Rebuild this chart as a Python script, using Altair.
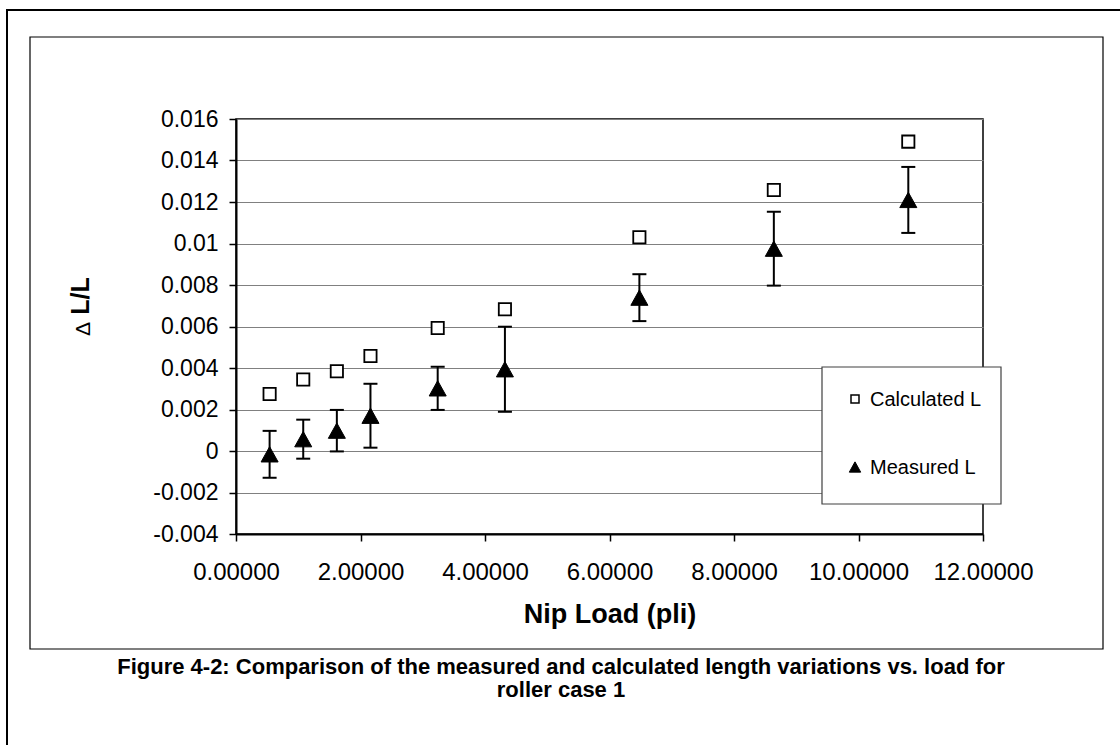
import altair as alt
import pandas as pd

# ---------------- data ----------------
load = [0.54, 1.08, 1.62, 2.16, 3.24, 4.32, 6.48, 8.64, 10.8]
calculated = [0.00275, 0.00345, 0.00384, 0.00458, 0.00593, 0.00683, 0.0103, 0.01258, 0.01491]
measured = [-0.00016, 0.00057, 0.00098, 0.0017, 0.00302, 0.00394, 0.00739, 0.00975, 0.0121]
measured_err = [0.00113, 0.00094, 0.001, 0.00154, 0.00104, 0.00205, 0.00113, 0.00178, 0.00159]

series_names = ["Calculated L", "Measured L"]
x_ticks = [0, 2, 4, 6, 8, 10, 12]
y_ticks = [-0.004, -0.002, 0, 0.002, 0.004, 0.006, 0.008, 0.01, 0.012, 0.014, 0.016]

x_title = "Nip Load (pli)"
y_title_main = "L/L"
y_title_delta = "\u0394"
caption_1 = "Figure 4-2: Comparison of the measured and calculated length variations vs. load for"
caption_2 = "roller case 1"

FONT = "Liberation Sans"
TRI = "M0,-0.9L1,0.9L-1,0.9Z"
CAP = "M-1,0L1,0"

calc_df = pd.DataFrame({"load": load, "value": calculated})
meas_df = pd.DataFrame({"load": load, "value": measured})
meas_df["low"] = [m - e for m, e in zip(measured, measured_err)]
meas_df["high"] = [m + e for m, e in zip(measured, measured_err)]
caps_df = pd.concat([
    pd.DataFrame({"load": load, "cap": meas_df["low"]}),
    pd.DataFrame({"load": load, "cap": meas_df["high"]}),
])

x_enc = alt.X("load:Q", scale=alt.Scale(domain=[0, 12], nice=False, zero=False),
              axis=alt.Axis(values=x_ticks, format=".5f", title=x_title, grid=False,
                            labelFontSize=24, titleFontSize=27, titleFontWeight="bold",
                            titlePadding=17, labelPadding=19, tickSize=7,
                            labelOverlap=False, labelFlush=False))
y_scale = alt.Scale(domain=[-0.004, 0.016], nice=False, zero=False)
y_axis = alt.Axis(values=y_ticks, title=None, grid=True,
                  labelExpr="replace(format(datum.value, '.3~f'), '\u2212', '-')",
                  labelFontSize=23, labelPadding=11, tickSize=7,
                  labelOverlap=False, labelFlush=False)

bars = alt.Chart(meas_df).mark_rule(color="black", strokeWidth=2).encode(
    x=x_enc, y=alt.Y("low:Q", scale=y_scale, axis=y_axis), y2="high:Q")

caps = alt.Chart(caps_df).mark_point(shape=CAP, size=196, filled=False, stroke="black",
                                     strokeWidth=2, opacity=1).encode(
    x="load:Q", y=alt.Y("cap:Q", scale=y_scale))

calc_pts = alt.Chart(calc_df).mark_point(shape="square", filled=True, fill="white",
                                         stroke="black", strokeWidth=1.8,
                                         size=150, opacity=1).encode(
    x="load:Q", y=alt.Y("value:Q", scale=y_scale))

meas_pts = alt.Chart(meas_df).mark_point(shape=TRI, filled=True, fill="black",
                                         stroke="black", strokeWidth=1,
                                         size=290, opacity=1).encode(
    x="load:Q", y=alt.Y("value:Q", scale=y_scale))

one = pd.DataFrame({"k": [0]})

outer_frame = alt.Chart(one).mark_rect(fill="transparent", stroke="black", strokeWidth=2).encode(
    x=alt.value(-229), x2=alt.value(900), y=alt.value(-109), y2=alt.value(700))
inner_frame = alt.Chart(one).mark_rect(fill="transparent", stroke="black", strokeWidth=1.2).encode(
    x=alt.value(-206), x2=alt.value(867), y=alt.value(-82), y2=alt.value(530))

# legend box (drawn in pixel space, outside the data)
leg_box = alt.Chart(one).mark_rect(fill="white", stroke="#404040", strokeWidth=1.2).encode(
    x=alt.value(586), x2=alt.value(765), y=alt.value(248), y2=alt.value(385))
leg_sq = alt.Chart(one).mark_point(shape="square", filled=True, fill="white", stroke="black",
                                   strokeWidth=1.5, size=64, opacity=1).encode(
    x=alt.value(619), y=alt.value(280))
leg_tri = alt.Chart(one).mark_point(shape=TRI, filled=True, fill="black", stroke="black",
                                    strokeWidth=1, size=130, opacity=1).encode(
    x=alt.value(619), y=alt.value(348))
leg_t1 = alt.Chart(one).mark_text(text=series_names[0], font=FONT, fontSize=20, align="left",
                                  baseline="middle", color="black").encode(
    x=alt.value(634), y=alt.value(281))
leg_t2 = alt.Chart(one).mark_text(text=series_names[1], font=FONT, fontSize=20, align="left",
                                  baseline="middle", color="black").encode(
    x=alt.value(634), y=alt.value(349))

ytitle_main = alt.Chart(one).mark_text(text=y_title_main, font=FONT, fontSize=25, fontWeight="bold",
                                       angle=270, align="center", baseline="middle").encode(
    x=alt.value(-155), y=alt.value(177))
ytitle_delta = alt.Chart(one).mark_text(text=y_title_delta, font=FONT, fontSize=21,
                                        angle=270, align="center", baseline="middle").encode(
    x=alt.value(-152), y=alt.value(210))

cap1 = alt.Chart(one).mark_text(text=caption_1, font=FONT, fontSize=22, fontWeight="bold",
                                align="center", baseline="alphabetic").encode(
    x=alt.value(325), y=alt.value(555))
cap2 = alt.Chart(one).mark_text(text=caption_2, font=FONT, fontSize=22, fontWeight="bold",
                                align="center", baseline="alphabetic").encode(
    x=alt.value(325), y=alt.value(578))

chart = alt.layer(
    outer_frame, inner_frame, bars, caps, calc_pts, meas_pts,
    leg_box, leg_sq, leg_tri, leg_t1, leg_t2,
    ytitle_main, ytitle_delta, cap1, cap2
).properties(
    width=747, height=415,
    autosize=alt.AutoSizeParams(type="none"),
    padding={"left": 236, "top": 119, "right": 137, "bottom": 211},
    background="white",
).configure_view(
    stroke="black", strokeWidth=1.5
).configure_axis(
    labelFont=FONT, titleFont=FONT, labelColor="black", titleColor="black",
    domainColor="black", domainWidth=2, tickColor="black", tickWidth=1.5,
    gridColor="#808080", gridWidth=1, gridOpacity=1
)

chart.save("out.html", embed_options={"renderer": "svg", "actions": False})
